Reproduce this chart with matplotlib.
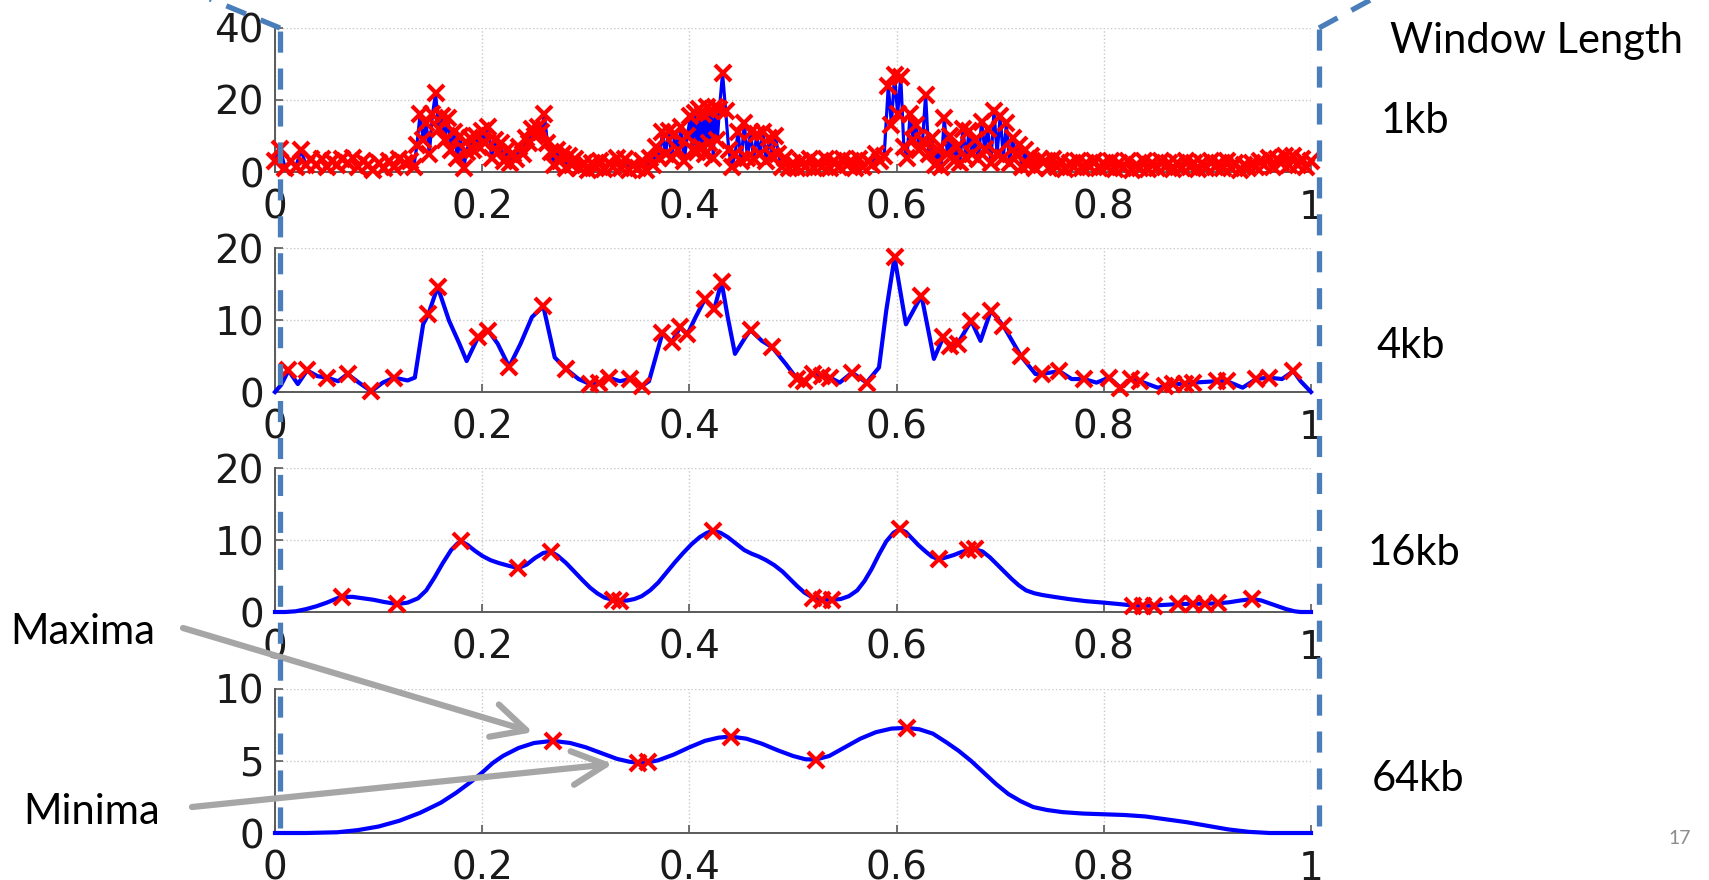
import matplotlib
matplotlib.use("Agg")
import matplotlib.pyplot as plt
from matplotlib.lines import Line2D

# ---- values ----
x_ticks = [0, 0.2, 0.4, 0.6, 0.8, 1]
x_ticklabels = ["0", "0.2", "0.4", "0.6", "0.8", "1"]
window_labels = ["1kb", "4kb", "16kb", "64kb"]
y_ticks = [[0, 20, 40], [0, 10, 20], [0, 10, 20], [0, 5, 10]]

# 1kb window: raw jagged signal, every local extremum is marked
x_1kb = [0.000, 0.005, 0.010, 0.015, 0.020, 0.025, 0.030, 0.035, 0.040, 0.045,
         0.050, 0.055, 0.060, 0.065, 0.070, 0.075, 0.080, 0.085, 0.090, 0.095,
         0.100, 0.105, 0.110, 0.115, 0.120, 0.125, 0.130,
         0.134, 0.137, 0.140, 0.143, 0.146, 0.149, 0.152, 0.155, 0.158, 0.161,
         0.164, 0.167, 0.170, 0.173, 0.176, 0.179, 0.182, 0.185, 0.188, 0.191,
         0.194, 0.197, 0.200, 0.203, 0.206, 0.209, 0.212, 0.215, 0.218, 0.221,
         0.224, 0.227, 0.230, 0.233, 0.236, 0.239, 0.242, 0.245, 0.248, 0.251,
         0.254, 0.257, 0.260, 0.263, 0.266, 0.269, 0.272, 0.275, 0.278, 0.281,
         0.284, 0.287, 0.290, 0.294, 0.298,
         0.302, 0.306, 0.310, 0.314, 0.318, 0.322, 0.326, 0.330, 0.334, 0.338,
         0.342, 0.346, 0.350, 0.354, 0.358,
         0.362, 0.365, 0.368, 0.371, 0.374, 0.377, 0.380, 0.383, 0.386, 0.389,
         0.392, 0.395, 0.398, 0.401, 0.403, 0.405, 0.407, 0.409, 0.411, 0.413,
         0.415, 0.417, 0.419, 0.421, 0.423, 0.425, 0.427, 0.429, 0.432, 0.435,
         0.438, 0.441, 0.444, 0.447, 0.450, 0.453, 0.456, 0.459, 0.462, 0.465,
         0.468, 0.471, 0.474, 0.477, 0.480, 0.483, 0.486, 0.489, 0.492, 0.496,
         0.500, 0.504, 0.508, 0.512, 0.516, 0.520, 0.524, 0.528, 0.532, 0.536,
         0.540, 0.544, 0.548, 0.552, 0.556, 0.560, 0.564, 0.568, 0.572, 0.576,
         0.580, 0.584,
         0.588, 0.592, 0.595, 0.598, 0.601, 0.604, 0.607, 0.610, 0.613, 0.616,
         0.619, 0.622, 0.625, 0.628, 0.631, 0.634, 0.637, 0.640, 0.643, 0.646,
         0.649, 0.652, 0.655, 0.658, 0.661, 0.664, 0.667, 0.670, 0.673, 0.676,
         0.679, 0.682, 0.685, 0.688, 0.691, 0.694, 0.697, 0.700, 0.703, 0.706,
         0.709, 0.712, 0.715, 0.718, 0.721, 0.724, 0.727, 0.730, 0.734, 0.738,
         0.743, 0.747, 0.751, 0.755, 0.759, 0.763, 0.767, 0.771, 0.775, 0.779,
         0.783, 0.787, 0.791, 0.795, 0.799, 0.803, 0.807, 0.811, 0.815, 0.819,
         0.823, 0.827, 0.831, 0.835, 0.839, 0.843, 0.847, 0.851, 0.855, 0.859,
         0.863, 0.867, 0.871, 0.875, 0.879, 0.883, 0.887, 0.891, 0.895, 0.899,
         0.903, 0.907, 0.911, 0.915, 0.919, 0.923, 0.927, 0.931, 0.935, 0.939,
         0.943, 0.947, 0.951, 0.955, 0.959, 0.963, 0.967, 0.971, 0.975, 0.979,
         0.983, 0.987, 0.991, 0.995, 1.000]
y_1kb = [3.0, 6.5, 1.0, 3.0, 1.5, 6.0, 2.0, 3.5, 2.0, 3.5,
         1.5, 3.0, 2.0, 3.5, 2.5, 4.0, 1.5, 3.0, 2.0, 0.5,
         2.5, 1.0, 3.0, 1.5, 3.5, 2.5, 3.0,
         1.5, 7.5, 16.0, 9.0, 13.5, 5.0, 16.0, 22.0, 12.0, 15.5,
         9.0, 15.0, 6.0, 11.0, 4.0, 10.0, 1.0, 5.5, 9.5, 6.0,
         10.0, 7.0, 11.5, 8.0, 12.5, 4.0, 9.0, 5.5, 8.0, 3.0,
         6.0, 2.5, 5.0, 3.5, 7.0, 5.0, 9.5, 8.0, 12.0, 10.0,
         12.5, 11.0, 16.0, 8.0, 5.5, 2.0, 6.0, 3.0, 5.0, 1.0,
         4.5, 2.0, 3.5, 1.0, 2.5,
         0.5, 2.5, 1.0, 3.0, 0.8, 2.5, 1.5, 4.0, 1.0, 3.5,
         0.5, 2.0, 1.0, 3.0, 0.5,
         4.0, 2.0, 7.0, 4.0, 11.0, 5.0, 11.5, 4.0, 10.5, 6.0,
         12.5, 3.0, 10.0, 15.5, 6.0, 16.5, 5.5, 17.5, 7.0, 16.0,
         5.0, 18.0, 8.0, 17.0, 4.0, 18.0, 9.0, 17.5, 27.5, 17.0,
         6.0, 1.5, 5.0, 11.0, 3.0, 13.5, 4.0, 11.0, 3.5, 10.5,
         5.0, 11.0, 3.0, 9.5, 4.5, 10.0, 5.0, 1.5, 4.0, 1.0,
         2.5, 1.0, 3.0, 1.5, 3.5, 1.0, 2.5, 1.5, 3.5, 1.0,
         3.0, 1.5, 3.5, 2.0, 3.0, 1.0, 3.5, 1.5, 3.0, 2.0,
         5.0, 3.0,
         4.5, 24.0, 13.0, 27.0, 16.0, 26.5, 7.0, 4.0, 16.0, 9.0,
         13.0, 6.0, 8.5, 21.5, 5.0, 9.5, 2.0, 6.0, 1.5, 15.0,
         5.0, 10.0, 3.0, 7.0, 2.5, 12.0, 4.0, 11.5, 5.0, 9.0,
         3.5, 14.0, 6.5, 12.0, 2.5, 17.0, 5.0, 15.5, 4.0, 13.5,
         2.5, 9.5, 5.0, 7.5, 1.5, 6.0, 2.0, 4.5, 1.0, 3.5,
         3.0, 1.0, 3.5, 1.5, 3.0, 0.8, 2.5, 1.5, 3.0, 1.0,
         2.5, 1.5, 3.0, 1.0, 2.5, 1.5, 3.0, 0.8, 2.5, 1.0,
         3.0, 0.5, 2.0, 1.0, 3.0, 0.8, 2.5, 1.0, 3.0, 1.5,
         2.5, 0.8, 2.5, 1.0, 3.0, 1.5, 2.5, 0.8, 2.5, 1.0,
         3.0, 1.5, 2.5, 1.0, 3.0, 1.0, 2.5, 0.5, 2.0, 1.0,
         2.5, 1.5, 3.0, 2.0, 4.0, 1.5, 3.5, 2.5, 4.5, 2.0,
         4.5, 2.0, 3.5, 1.5, 3.0]

# 4kb window
x_4kb = [0.000, 0.006, 0.013, 0.022, 0.031, 0.041, 0.050, 0.061, 0.070, 0.081,
         0.093, 0.104, 0.115, 0.128, 0.135, 0.143, 0.148, 0.157, 0.168, 0.178,
         0.185, 0.193, 0.196, 0.206, 0.215, 0.226, 0.237, 0.248, 0.259, 0.270,
         0.281, 0.293, 0.304, 0.313, 0.322, 0.333, 0.343, 0.354, 0.361, 0.374,
         0.383, 0.391, 0.398, 0.406, 0.415, 0.424, 0.431, 0.437, 0.444, 0.454,
         0.459, 0.470, 0.480, 0.493, 0.504, 0.511, 0.519, 0.528, 0.536, 0.545,
         0.557, 0.571, 0.583, 0.590, 0.598, 0.609, 0.624, 0.636, 0.645, 0.652,
         0.659, 0.672, 0.681, 0.691, 0.703, 0.720, 0.734, 0.740, 0.757, 0.769,
         0.781, 0.793, 0.805, 0.816, 0.826, 0.835, 0.852, 0.859, 0.867, 0.878,
         0.886, 0.909, 0.919, 0.934, 0.947, 0.959, 0.972, 0.983, 0.990, 1.000]
y_4kb = [0.0, 1.0, 3.0, 1.1, 3.0, 2.2, 2.0, 1.5, 2.5, 1.3,
         0.1, 1.3, 2.0, 1.6, 2.0, 9.4, 10.8, 14.6, 9.9, 6.7,
         4.3, 6.7, 7.6, 8.5, 6.7, 3.5, 6.7, 10.4, 11.9, 4.8,
         3.2, 1.8, 1.1, 1.3, 2.0, 1.5, 1.8, 0.8, 1.5, 8.2,
         6.9, 9.0, 8.0, 10.4, 12.9, 11.5, 15.3, 10.4, 5.3, 7.6,
         8.6, 7.1, 6.2, 3.9, 1.8, 1.5, 2.5, 2.2, 2.0, 1.3,
         2.7, 1.3, 3.4, 11.3, 18.7, 9.4, 13.4, 4.6, 7.6, 6.4,
         6.7, 9.9, 7.1, 11.3, 9.2, 5.0, 2.5, 2.5, 2.9, 1.8,
         1.8, 1.3, 2.0, 0.6, 1.8, 1.5, 0.6, 0.8, 1.1, 1.1,
         1.3, 1.5, 1.5, 0.6, 1.8, 2.0, 1.8, 2.9, 1.5, 0.0]
mk_4kb = [0.013, 0.031, 0.050, 0.070, 0.093, 0.115, 0.148, 0.157, 0.196, 0.206,
          0.226, 0.259, 0.281, 0.304, 0.313, 0.322, 0.343, 0.354, 0.374, 0.383,
          0.391, 0.398, 0.415, 0.424, 0.431, 0.459, 0.480, 0.504, 0.511, 0.519,
          0.528, 0.536, 0.557, 0.571, 0.598, 0.624, 0.645, 0.652, 0.659, 0.672,
          0.691, 0.703, 0.720, 0.740, 0.757, 0.781, 0.805, 0.816, 0.826, 0.835,
          0.859, 0.867, 0.878, 0.886, 0.909, 0.919, 0.947, 0.959, 0.983]

# 16kb window
x_16kb = [0.000, 0.010, 0.020, 0.030, 0.040, 0.050, 0.060, 0.065, 0.075, 0.085,
          0.095, 0.105, 0.118, 0.128, 0.138, 0.146, 0.154, 0.162, 0.170, 0.176,
          0.180, 0.186, 0.193, 0.200, 0.208, 0.216, 0.226, 0.235, 0.243, 0.251,
          0.259, 0.266, 0.273, 0.281, 0.289, 0.297, 0.304, 0.311, 0.318, 0.326,
          0.333, 0.340, 0.347, 0.354, 0.362, 0.370, 0.378, 0.386, 0.394, 0.402,
          0.410, 0.417, 0.423, 0.430, 0.437, 0.445, 0.453, 0.460, 0.467, 0.474,
          0.482, 0.490, 0.497, 0.504, 0.511, 0.519, 0.528, 0.538, 0.546, 0.554,
          0.562, 0.569, 0.576, 0.583, 0.590, 0.597, 0.603, 0.609, 0.615, 0.621,
          0.628, 0.634, 0.641, 0.648, 0.655, 0.662, 0.669, 0.676, 0.683, 0.690,
          0.697, 0.704, 0.711, 0.718, 0.725, 0.733, 0.741, 0.752, 0.766, 0.783,
          0.800, 0.815, 0.828, 0.838, 0.848, 0.860, 0.872, 0.886, 0.898, 0.910,
          0.921, 0.932, 0.943, 0.952, 0.960, 0.968, 0.976, 0.984, 0.990, 1.000]
y_16kb = [0.0, 0.0, 0.1, 0.4, 0.8, 1.3, 1.9, 2.1, 2.1, 1.9,
          1.7, 1.4, 1.1, 1.3, 1.9, 3.0, 4.8, 6.8, 8.6, 9.5,
          9.8, 9.3, 8.5, 7.8, 7.2, 6.8, 6.4, 6.1, 6.6, 7.5,
          8.2, 8.4, 7.8, 6.8, 5.6, 4.4, 3.4, 2.6, 2.0, 1.7,
          1.55, 1.6, 1.8, 2.2, 3.0, 4.1, 5.5, 6.9, 8.2, 9.4,
          10.4, 11.0, 11.3, 11.0, 10.4, 9.5, 8.6, 8.1, 7.7, 7.2,
          6.5, 5.6, 4.6, 3.6, 2.7, 2.0, 1.7, 1.7, 1.8, 2.2,
          3.0, 4.3, 6.0, 8.0, 9.8, 11.0, 11.5, 11.1, 10.2, 9.3,
          8.4, 7.7, 7.3, 7.6, 7.9, 8.3, 8.6, 8.7, 8.4, 7.6,
          6.6, 5.6, 4.6, 3.7, 3.0, 2.6, 2.35, 2.1, 1.8, 1.5,
          1.3, 1.1, 0.9, 0.85, 0.9, 1.0, 1.1, 1.15, 1.15, 1.2,
          1.35, 1.6, 1.8, 1.6, 1.2, 0.8, 0.4, 0.1, 0.0, 0.0]
mk_16kb = [0.065, 0.118, 0.180, 0.235, 0.266, 0.326, 0.333, 0.423, 0.519, 0.528,
           0.538, 0.603, 0.641, 0.669, 0.676, 0.828, 0.838, 0.848, 0.872, 0.886,
           0.898, 0.910, 0.943]

# 64kb window
x_64kb = [0.000, 0.030, 0.060, 0.080, 0.100, 0.120, 0.140, 0.160, 0.175, 0.190,
          0.200, 0.210, 0.220, 0.235, 0.250, 0.268, 0.285, 0.300, 0.315, 0.330,
          0.342, 0.350, 0.360, 0.370, 0.385, 0.400, 0.415, 0.428, 0.440, 0.455,
          0.470, 0.485, 0.500, 0.512, 0.522, 0.535, 0.550, 0.565, 0.580, 0.595,
          0.610, 0.622, 0.635, 0.648, 0.660, 0.672, 0.684, 0.696, 0.708, 0.720,
          0.732, 0.745, 0.760, 0.780, 0.800, 0.820, 0.840, 0.860, 0.880, 0.900,
          0.920, 0.940, 0.960, 1.000]
y_64kb = [0.0, 0.0, 0.05, 0.2, 0.45, 0.85, 1.4, 2.1, 2.8, 3.6,
          4.2, 4.85, 5.35, 5.9, 6.25, 6.4, 6.25, 5.95, 5.55, 5.15,
          4.95, 4.88, 4.9, 5.05, 5.45, 5.95, 6.4, 6.62, 6.7, 6.55,
          6.2, 5.75, 5.35, 5.12, 5.1, 5.35, 5.95, 6.55, 7.0, 7.25,
          7.3, 7.2, 6.9, 6.3, 5.7, 5.0, 4.2, 3.4, 2.7, 2.2,
          1.8, 1.6, 1.45, 1.35, 1.3, 1.25, 1.15, 0.95, 0.75, 0.5,
          0.25, 0.08, 0.0, 0.0]
mk_64kb = [0.268, 0.350, 0.360, 0.440, 0.522, 0.610]

curves_x = [x_1kb, x_4kb, x_16kb, x_64kb]
curves_y = [y_1kb, y_4kb, y_16kb, y_64kb]
markers_x = [x_1kb, mk_4kb, mk_16kb, mk_64kb]

# ---- figure ----
plt.rcParams["font.family"] = "DejaVu Sans"
W, H = 1709, 880
fig = plt.figure(figsize=(W / 100, H / 100), dpi=100)


def fx(px):
    return px / W


def fy(py):
    return 1 - py / H


ax_l, ax_r, ax_h = 275, 1311, 144
panel_tops = [28, 248, 468, 689]
label_y = [121, 346, 553, 779]
label_x = [1381, 1376, 1368, 1372]

axes = []
for i in range(4):
    top = panel_tops[i]
    ax = fig.add_axes([fx(ax_l), fy(top + ax_h), (ax_r - ax_l) / W, ax_h / H])
    axes.append(ax)
    xs, ys = curves_x[i], curves_y[i]
    lookup = dict(zip(xs, ys))
    mx = markers_x[i]
    my = [lookup[v] for v in mx]
    ax.plot(xs, ys, color="#0000FF", lw=2.3 if i == 0 else 3.0,
            solid_joinstyle="round", clip_on=False, zorder=3)
    ax.plot(mx, my, ls="none", marker="x", color="#FF0000", ms=11, mew=3.0,
            clip_on=False, zorder=4)
    ax.set_xlim(0, 1)
    ax.set_ylim(0, y_ticks[i][-1])
    ax.set_xticks(x_ticks)
    ax.set_xticklabels(x_ticklabels)
    ax.set_yticks(y_ticks[i])
    ax.grid(True, ls=":", color="#c8c8c8", lw=1.0)
    ax.set_axisbelow(True)
    for s in ["top", "right"]:
        ax.spines[s].set_visible(False)
    for s in ["left", "bottom"]:
        ax.spines[s].set_color("#5a5a5a")
        ax.spines[s].set_linewidth(1.4)
    ax.tick_params(direction="in", length=6, width=1.2, color="#5a5a5a",
                   labelcolor="#1a1a1a", labelsize=28)
    ax.tick_params(axis="x", pad=12)
    ax.tick_params(axis="y", pad=8)
    fig.text(fx(label_x[i]), fy(label_y[i]), window_labels[i], family="Lato",
             fontsize=30, ha="left", va="center")

fig.text(fx(1390), fy(41), "Window Length", family="Lato", fontsize=30,
         ha="left", va="center")
fig.text(fx(1668), fy(838), "17", family="Lato", fontsize=14, color="#8c8c8c",
         ha="left", va="center")

# zoom call-out dashed lines of the slide
dash = dict(color="#4A7EBB", lw=3.8, ls=(0, (4, 3)), solid_capstyle="butt")
for xs_px, ys_px in [([280, 280], [828, 28]), ([280, 147], [28, -27]),
                     ([1319, 1319], [826, 28]), ([1319, 1385], [28, -8])]:
    fig.add_artist(Line2D([fx(v) for v in xs_px], [fy(v) for v in ys_px],
                          transform=fig.transFigure, **dash))

# Maxima / Minima call-outs
ax4 = axes[3]
arrow = dict(arrowstyle="->,head_length=1.1,head_width=0.55", lw=4.5,
             color="#A6A6A6", shrinkA=0, shrinkB=0, mutation_scale=22)
ax4.annotate("", xy=(0.249, 7.0), xycoords="data",
             xytext=(183, H - 628), textcoords="figure pixels",
             arrowprops=arrow, annotation_clip=False)
ax4.annotate("", xy=(0.326, 4.8), xycoords="data",
             xytext=(192, H - 807), textcoords="figure pixels",
             arrowprops=arrow, annotation_clip=False)
fig.text(fx(10), fy(632), "Maxima", family="Lato", fontsize=30,
         ha="left", va="center")
fig.text(fx(23), fy(812), "Minima", family="Lato", fontsize=30,
         ha="left", va="center")

fig.savefig("out.png", dpi=100)
